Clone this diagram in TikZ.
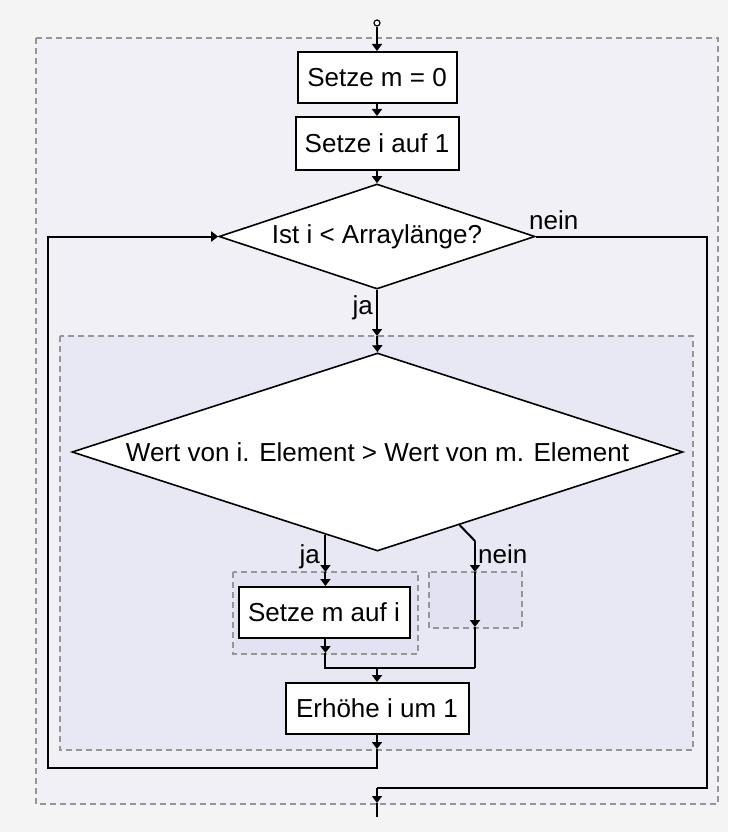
\documentclass[tikz,border=0pt]{standalone}
\usepackage{fontspec}
\setmainfont{Liberation Sans}
\usetikzlibrary{shapes.geometric,arrows.meta,calc}
\definecolor{pagebg}{RGB}{244,244,244}
\definecolor{outerfill}{RGB}{240,240,246}
\definecolor{innerfill}{RGB}{232,232,244}
\definecolor{smallfill}{RGB}{226,226,242}
\definecolor{dashgray}{RGB}{150,150,150}
\begin{document}
\begin{tikzpicture}[x=1pt,y=-1pt,
  txt/.style={font=\fontsize{26}{30}\selectfont},
  proc/.style={txt,draw=black,fill=white,line width=2pt,inner sep=0pt,minimum height=51pt},
  dec/.style={txt,shape=diamond,draw=black,fill=white,line width=1.6pt,inner sep=0pt},
  lbl/.style={txt,inner sep=0pt},
  frame/.style={draw=dashgray,line width=1.5pt,dash pattern=on 6pt off 4pt},
  conn/.style={line width=2pt,draw=black},
  arr/.style={conn,-{Triangle[width=10pt,length=7pt]}},
]
\useasboundingbox (0,0) rectangle (728,832);
\fill[pagebg] (0,0) rectangle (728,832);

% containers
\filldraw[frame,fill=outerfill] (36,38) rectangle (718,804);
\filldraw[frame,fill=innerfill] (60,336) rectangle (693,750);
\filldraw[frame,fill=smallfill] (233,572) rectangle (418,654);
\filldraw[frame,fill=smallfill] (429,572) rectangle (522,628);

% nodes
\node[circle,draw=black,line width=1.2pt,fill=white,minimum size=6pt,inner sep=0pt] (start) at (377,23) {};
\node[proc,minimum width=159pt] (b1) at (377,77.5) {Setze m = 0};
\node[proc,minimum width=163pt,minimum height=53pt] (b2) at (377,143.5) {Setze i auf 1};
\node[dec,aspect=3.01,minimum width=316pt,minimum height=105pt] (d1) at (377,236.5) {Ist i < Arraylänge?};
\node[dec,aspect=3.086,minimum width=611pt,minimum height=198pt] (d2) at (377.5,452) {Wert von i. Element > Wert von m. Element};
\node[proc,minimum width=171pt] (b3) at (324,612.5) {Setze m auf i};
\node[proc,minimum width=183pt] (b4) at (377,708.5) {Erhöhe i um 1};

% labels
\node[lbl,anchor=base east] (ja1) at (373,314) {ja};
\node[lbl,anchor=base west] (nein1) at (529,229) {nein};
\node[lbl,anchor=base east] (ja2) at (320,563) {ja};
\node[lbl,anchor=base west] (nein2) at (478,563) {nein};

% helper coordinates
\coordinate (inTop) at (377,336);
\coordinate (jaS) at ($(d2.south)!0.17!(d2.west)$);
\coordinate (neinS) at ($(d2.south)!0.268!(d2.east)$);
\coordinate (neinK) at (475,541);
\coordinate (ySmallTop) at (0,572);
\coordinate (yJaBot) at (0,653);
\coordinate (yNeinBot) at (0,627);
\coordinate (yMerge) at (0,668);
\coordinate (yInBot) at (0,749);
\coordinate (yLoop) at (0,768);
\coordinate (xLoopL) at (48,0);
\coordinate (xLoopR) at (707,0);
\coordinate (yExit) at (0,788);
\coordinate (yOutBot) at (0,803);
\coordinate (yEnd) at (0,817);

% main column
\draw[arr] (start) -- (b1);
\draw[arr] (b1) -- (b2);
\draw[arr] (b2) -- (d1);
\draw[arr] (d1.south) -- (inTop);
\draw[arr] (inTop) -- (d2.north);

% ja branch
\draw[arr] (jaS) -- (jaS |- ySmallTop);
\draw[arr] (jaS |- ySmallTop) -- (jaS |- b3.north);
\draw[arr] (jaS |- b3.south) -- (jaS |- yJaBot);
\draw[conn] (jaS |- yJaBot) -- (jaS |- yMerge) -- (neinK |- yMerge);

% nein branch
\draw[conn] (neinS) -- (neinK);
\draw[arr] (neinK) -- (neinK |- ySmallTop);
\draw[arr] (neinK |- ySmallTop) -- (neinK |- yNeinBot);
\draw[conn] (neinK |- yNeinBot) -- (neinK |- yMerge);

% merge
\draw[arr] (b4.north |- yMerge) -- (b4.north);

% loop back
\draw[arr] (b4.south) -- (b4.south |- yInBot);
\draw[arr] (b4.south |- yInBot) -- (b4.south |- yLoop) -- (xLoopL |- yLoop) -- (xLoopL |- d1.west) -- (d1.west);

% exit
\draw[conn] (d1.east) -- (xLoopR |- d1.east) -- (xLoopR |- yExit) -- (b4.south |- yExit);
\draw[arr] (b4.south |- yExit) -- (b4.south |- yOutBot);
\draw[conn] (b4.south |- yOutBot) -- (b4.south |- yEnd);
\end{tikzpicture}
\end{document}
